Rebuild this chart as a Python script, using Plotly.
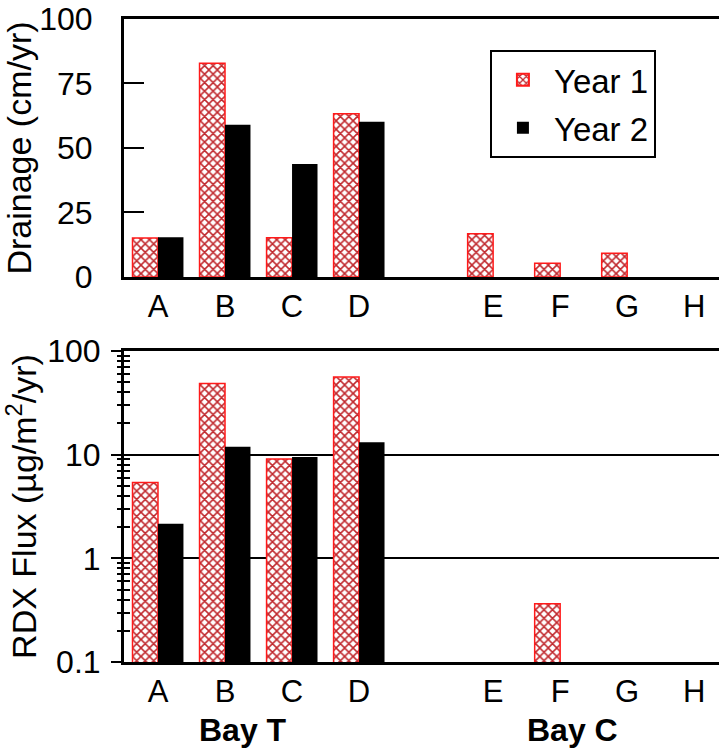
import plotly.graph_objects as go

categories = ["A", "B", "C", "D", " ", "E", "F", "G", "H"]
drain_y1 = [15.1, 82.8, 15.2, 63.3, None, 16.8, 5.3, 9.2, None]
drain_y2 = [15.4, 59.0, 43.8, 60.2, None, None, None, None, None]
flux_y1 = [5.4, 48.6, 9.1, 56.0, None, None, 0.365, None, None]
flux_y2 = [2.16, 11.9, 9.5, 13.2, None, None, None, None, None]
series_names = ["Year 1", "Year 2"]
bay_labels = ["Bay T", "Bay C"]

FONT = "Liberation Sans, Arial, sans-serif"
RED = "#ff1a1a"
pattern = dict(shape="x", fgcolor="#c0282d", bgcolor="white", size=6, solidity=0.45, fillmode="replace")
minor_vals = [0.2, 0.3, 0.4, 0.5, 0.6, 0.7, 0.8, 0.9, 2, 3, 4, 5, 6, 7, 8, 9,
              20, 30, 40, 50, 60, 70, 80, 90]
shown_ticks = [c for c in categories if c.strip()]

fig = go.Figure()
fig.add_trace(go.Bar(x=categories, y=drain_y1, name=series_names[0], xaxis="x", yaxis="y",
                     marker=dict(color="white", pattern=pattern, line=dict(color=RED, width=1.5)),
                     legendgroup="y1"))
fig.add_trace(go.Bar(x=categories, y=drain_y2, name=series_names[1], xaxis="x", yaxis="y",
                     marker=dict(color="black", line=dict(width=0)), legendgroup="y2"))
fig.add_trace(go.Bar(x=categories, y=flux_y1, name=series_names[0], xaxis="x2", yaxis="y2",
                     marker=dict(color="white", pattern=pattern, line=dict(color=RED, width=1.5)),
                     legendgroup="y1", showlegend=False))
fig.add_trace(go.Bar(x=categories, y=flux_y2, name=series_names[1], xaxis="x2", yaxis="y2",
                     marker=dict(color="black", line=dict(width=0)), legendgroup="y2", showlegend=False))
# invisible trace to carry the overlay axis for crossing minor ticks
fig.add_trace(go.Scatter(x=[categories[0]], y=[1], xaxis="x2", yaxis="y3", mode="markers",
                         marker=dict(opacity=0), showlegend=False, hoverinfo="skip"))

xr = [-0.507, 8.37]
common_x = dict(type="category", categoryorder="array", categoryarray=categories, range=xr,
                tickmode="array", tickvals=shown_ticks, ticktext=shown_ticks,
                showline=True, linecolor="black", linewidth=3, mirror=True, ticks="",
                tickfont=dict(family=FONT, size=31, color="black"), ticklabelstandoff=0,
                showgrid=False, zeroline=False)

fig.update_layout(
    width=719, height=753,
    margin=dict(l=124, r=0, t=19, b=91),
    paper_bgcolor="white", plot_bgcolor="white",
    barmode="group", bargap=0.24, bargroupgap=0,
    font=dict(family=FONT, color="black"),
    xaxis=dict(common_x, anchor="y", domain=[0, 1]),
    xaxis2=dict(common_x, anchor="y2", domain=[0, 1]),
    yaxis=dict(domain=[0.5988, 1.0], range=[0, 100], tickvals=[0, 25, 50, 75, 100],
               ticks="inside", ticklen=20, tickwidth=2, tickcolor="black",
               showline=True, linecolor="black", linewidth=3, showgrid=False, zeroline=False,
               tickfont=dict(family=FONT, size=32, color="black"), ticklabelstandoff=22,
               title=dict(text="Drainage (cm/yr)", font=dict(family=FONT, size=34, color="black"), standoff=6),
               anchor="x"),
    yaxis2=dict(domain=[0, 0.4837], type="log", range=[-1, 2],
                tickvals=[0.1, 1, 10, 100], ticktext=["0.1", "1", "10", "100"],
                ticks="outside", ticklen=10, tickwidth=2, tickcolor="black",
                minor=dict(ticks="inside", ticklen=6, tickwidth=1.5, tickcolor="black", showgrid=False,
                           tickvals=minor_vals),
                showline=True, linecolor="black", linewidth=3,
                showgrid=True, gridcolor="black", gridwidth=1.5, zeroline=False,
                tickfont=dict(family=FONT, size=32, color="black"), ticklabelstandoff=4,
                title=dict(text="RDX Flux (µg/m<sup>2</sup>/yr)", font=dict(family=FONT, size=34, color="black"), standoff=6),
                anchor="x2"),
    yaxis3=dict(overlaying="y2", type="log", range=[-1, 2], side="left", anchor="x2",
                showticklabels=False, showgrid=False, zeroline=False, showline=False,
                ticks="",
                minor=dict(ticks="outside", ticklen=6, tickwidth=1.5, tickcolor="black", showgrid=False,
                           tickvals=minor_vals)),
    legend=dict(x=0.615, y=0.952, xanchor="left", yanchor="top",
                bgcolor="white", bordercolor="black", borderwidth=2,
                font=dict(family=FONT, size=33, color="black"),
                itemsizing="constant", itemwidth=52, tracegroupgap=2),
    showlegend=True,
)

fig.add_annotation(text="<b>" + bay_labels[0] + "</b>", x=1.27, y=-0.106, xref="x2", yref="paper",
                   showarrow=False, font=dict(family=FONT, size=32, color="black"), yanchor="middle")
fig.add_annotation(text="<b>" + bay_labels[1] + "</b>", x=6.18, y=-0.106, xref="x2", yref="paper",
                   showarrow=False, font=dict(family=FONT, size=32, color="black"), yanchor="middle")

fig.write_html("out.html")
